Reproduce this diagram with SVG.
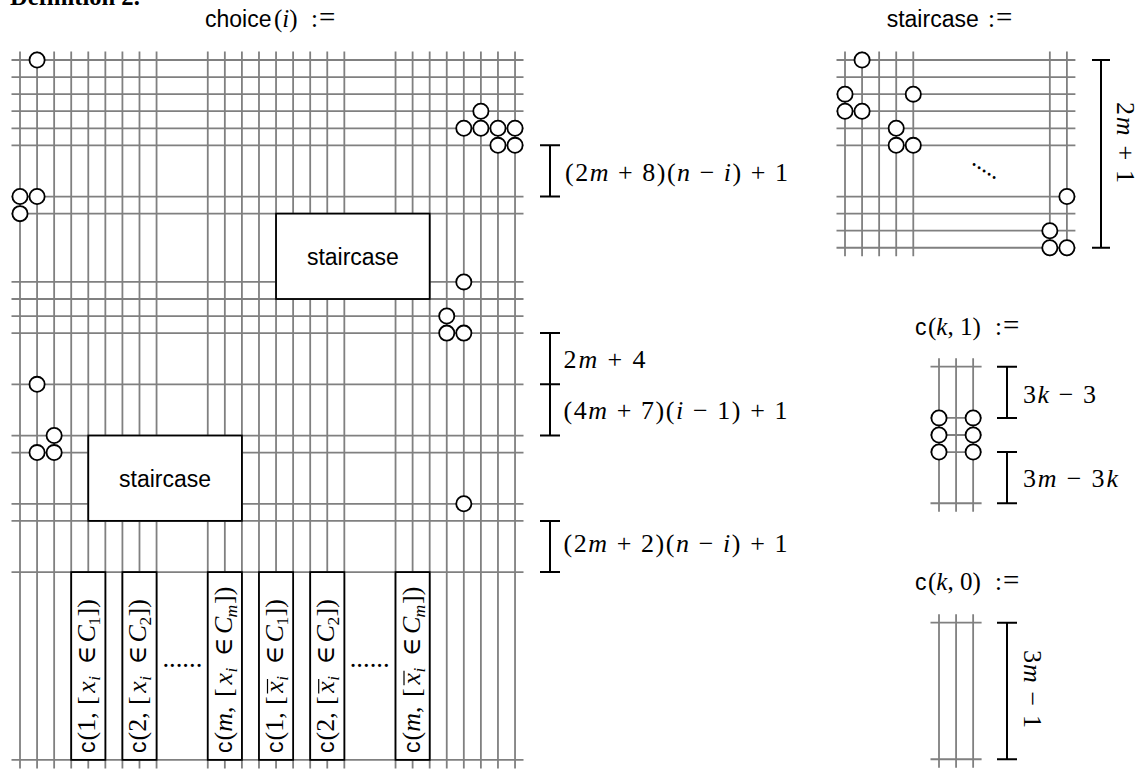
<svg xmlns="http://www.w3.org/2000/svg" width="1139" height="769" viewBox="0 0 1139 769">
<style>
.g{stroke:#808080;stroke-width:1.8;fill:none}
.pt{fill:#fff;stroke:#000;stroke-width:1.8}
.box{fill:#fff;stroke:#000;stroke-width:1.8}
.br{stroke:#000;stroke-width:2;fill:none}
.ov{stroke:#000;stroke-width:1.2}
.sf{font-family:"Liberation Sans",Arial,sans-serif}
.rm{font-family:"Liberation Serif","DejaVu Serif",serif}
.it{font-style:italic}
.sym{font-family:"DejaVu Serif",serif;font-size:25px}
text{fill:#000}
</style>
<rect width="1139" height="769" fill="#fff"/>

<text id="title" class="rm" x="10" y="5" font-size="24.6" font-weight="bold">Definition 2.</text>

<!-- choice(i) -->
<g id="choice-title">
<text x="205" y="26.5" font-size="25" class="rm"><tspan class="sf" font-size="23">choice</tspan><tspan x="274">(</tspan><tspan class="it">i</tspan><tspan>)</tspan><tspan x="311">:</tspan><tspan x="319" font-size="29">=</tspan></text>
</g>

<g id="choice-grid">
<path class="g" d="M11.5 60H523.5M11.5 77.07H523.5M11.5 94.14H523.5M11.5 111.21H523.5M11.5 128.28H523.5M11.5 145.35H523.5M11.5 196.56H523.5M11.5 213.63H523.5M11.5 281.91H523.5M11.5 298.98H523.5M11.5 316.05H523.5M11.5 333.12H523.5M11.5 384.33H523.5M11.5 435.54H523.5M11.5 452.61H523.5M11.5 503.82H523.5M11.5 520.89H523.5M11.5 572.1H523.5M11.5 759.87H523.5"/>
<path class="g" d="M20 51.5V768.4M37.07 51.5V768.4M54.14 51.5V768.4M71.21 51.5V768.4M88.28 51.5V768.4M105.35 51.5V768.4M122.42 51.5V768.4M139.49 51.5V768.4M156.56 51.5V768.4M207.77 51.5V768.4M224.84 51.5V768.4M241.91 51.5V768.4M258.98 51.5V768.4M276.05 51.5V768.4M293.12 51.5V768.4M310.19 51.5V768.4M327.26 51.5V768.4M344.33 51.5V768.4M395.54 51.5V768.4M412.61 51.5V768.4M429.68 51.5V768.4M446.75 51.5V768.4M463.82 51.5V768.4M480.89 51.5V768.4M497.96 51.5V768.4M515.03 51.5V768.4"/>
</g>

<g id="staircase-upper">
<rect class="box" x="276.05" y="213.63" width="153.63" height="85.35"/>
<text class="sf" x="352.9" y="264.5" font-size="23" text-anchor="middle">staircase</text>
</g>
<g id="staircase-lower">
<rect class="box" x="88.28" y="435.54" width="153.63" height="85.35"/>
<text class="sf" x="165.1" y="486.5" font-size="23" text-anchor="middle">staircase</text>
</g>

<g id="choice-points">
<circle class="pt" cx="37.07" cy="60" r="7.6"/>
<circle class="pt" cx="20" cy="196.56" r="7.6"/>
<circle class="pt" cx="37.07" cy="196.56" r="7.6"/>
<circle class="pt" cx="20" cy="213.63" r="7.6"/>
<circle class="pt" cx="480.89" cy="111.21" r="7.6"/>
<circle class="pt" cx="463.82" cy="128.28" r="7.6"/>
<circle class="pt" cx="480.89" cy="128.28" r="7.6"/>
<circle class="pt" cx="497.96" cy="128.28" r="7.6"/>
<circle class="pt" cx="515.03" cy="128.28" r="7.6"/>
<circle class="pt" cx="497.96" cy="145.35" r="7.6"/>
<circle class="pt" cx="515.03" cy="145.35" r="7.6"/>
<circle class="pt" cx="463.82" cy="281.91" r="7.6"/>
<circle class="pt" cx="446.75" cy="316.05" r="7.6"/>
<circle class="pt" cx="446.75" cy="333.12" r="7.6"/>
<circle class="pt" cx="463.82" cy="333.12" r="7.6"/>
<circle class="pt" cx="37.07" cy="384.33" r="7.6"/>
<circle class="pt" cx="54.14" cy="435.54" r="7.6"/>
<circle class="pt" cx="37.07" cy="452.61" r="7.6"/>
<circle class="pt" cx="54.14" cy="452.61" r="7.6"/>
<circle class="pt" cx="463.82" cy="503.82" r="7.6"/>
</g>

<!-- clause boxes -->
<g id="cbox-1">
<rect class="box" x="71.21" y="572.1" width="34.14" height="187.77"/>
<g transform="translate(95.2,753) rotate(-90)">
<text class="rm" font-size="26"><tspan class="sf" font-size="23" x="0">c</tspan><tspan x="12.5">(1,</tspan><tspan x="48">[</tspan><tspan class="it" x="60.3">x</tspan><tspan class="it" x="72.3" dy="5" font-size="17.5">i</tspan><tspan class="sym" x="88.5" dy="-5">∈</tspan><tspan class="it" x="110.5">C</tspan><tspan x="127.5" dy="5" font-size="17.5">1</tspan><tspan x="136.5" dy="-5">])</tspan></text>
</g>
</g>
<g id="cbox-2">
<rect class="box" x="122.42" y="572.1" width="34.14" height="187.77"/>
<g transform="translate(146.4,753) rotate(-90)">
<text class="rm" font-size="26"><tspan class="sf" font-size="23" x="0">c</tspan><tspan x="12.5">(2,</tspan><tspan x="48">[</tspan><tspan class="it" x="60.3">x</tspan><tspan class="it" x="72.3" dy="5" font-size="17.5">i</tspan><tspan class="sym" x="88.5" dy="-5">∈</tspan><tspan class="it" x="110.5">C</tspan><tspan x="127.5" dy="5" font-size="17.5">2</tspan><tspan x="136.5" dy="-5">])</tspan></text>
</g>
</g>
<g id="cbox-m">
<rect class="box" x="207.77" y="572.1" width="34.14" height="187.77"/>
<g transform="translate(231.8,753) rotate(-90)">
<text class="rm" font-size="26"><tspan class="sf" font-size="23" x="0">c</tspan><tspan x="12.5">(</tspan><tspan class="it">m</tspan><tspan>,</tspan><tspan x="56">[</tspan><tspan class="it" x="68.6">x</tspan><tspan class="it" x="80.6" dy="5" font-size="17.5">i</tspan><tspan class="sym" x="96.8" dy="-5">∈</tspan><tspan class="it" x="119">C</tspan><tspan class="it" x="135.6" dy="5" font-size="17.5">m</tspan><tspan x="149" dy="-5">])</tspan></text>
</g>
</g>
<g id="cbox-neg-1">
<rect class="box" x="258.98" y="572.1" width="34.14" height="187.77"/>
<g transform="translate(283,753) rotate(-90)">
<text class="rm" font-size="26"><tspan class="sf" font-size="23" x="0">c</tspan><tspan x="12.5">(1,</tspan><tspan x="48">[</tspan><tspan class="it" x="60.3">x</tspan><tspan class="it" x="72.3" dy="5" font-size="17.5">i</tspan><tspan class="sym" x="88.5" dy="-5">∈</tspan><tspan class="it" x="110.5">C</tspan><tspan x="127.5" dy="5" font-size="17.5">1</tspan><tspan x="136.5" dy="-5">])</tspan></text>
<line class="ov" x1="59.5" y1="-15.5" x2="74" y2="-15.5"/>
</g>
</g>
<g id="cbox-neg-2">
<rect class="box" x="310.19" y="572.1" width="34.14" height="187.77"/>
<g transform="translate(334.2,753) rotate(-90)">
<text class="rm" font-size="26"><tspan class="sf" font-size="23" x="0">c</tspan><tspan x="12.5">(2,</tspan><tspan x="48">[</tspan><tspan class="it" x="60.3">x</tspan><tspan class="it" x="72.3" dy="5" font-size="17.5">i</tspan><tspan class="sym" x="88.5" dy="-5">∈</tspan><tspan class="it" x="110.5">C</tspan><tspan x="127.5" dy="5" font-size="17.5">2</tspan><tspan x="136.5" dy="-5">])</tspan></text>
<line class="ov" x1="59.5" y1="-15.5" x2="74" y2="-15.5"/>
</g>
</g>
<g id="cbox-neg-m">
<rect class="box" x="395.54" y="572.1" width="34.14" height="187.77"/>
<g transform="translate(419.5,753) rotate(-90)">
<text class="rm" font-size="26"><tspan class="sf" font-size="23" x="0">c</tspan><tspan x="12.5">(</tspan><tspan class="it">m</tspan><tspan>,</tspan><tspan x="56">[</tspan><tspan class="it" x="68.6">x</tspan><tspan class="it" x="80.6" dy="5" font-size="17.5">i</tspan><tspan class="sym" x="96.8" dy="-5">∈</tspan><tspan class="it" x="119">C</tspan><tspan class="it" x="135.6" dy="5" font-size="17.5">m</tspan><tspan x="149" dy="-5">])</tspan></text>
<line class="ov" x1="67.8" y1="-15.5" x2="82.3" y2="-15.5"/>
</g>
</g>
<text class="rm" x="162.4" y="666.5" font-size="26.6">......</text>
<text class="rm" x="349.7" y="666.5" font-size="26.6">......</text>

<!-- dimension brackets -->
<g id="connectors">
<path class="br" d="M540 145.35H560M550 145.35V196.56M540 196.56H560"/>
<path class="br" d="M540 333.12H560M550 333.12V435.54M540 384.33H560M540 435.54H560"/>
<path class="br" d="M540 520.89H560M550 520.89V572.1M540 572.1H560"/>
<path class="br" d="M1092 60H1110M1101 60V247.77M1092 247.77H1110"/>
<path class="br" d="M997 366.7H1017M1007 366.7V417.91M997 417.91H1017"/>
<path class="br" d="M997 452.05H1017M1007 452.05V503.26M997 503.26H1017"/>
<path class="br" d="M997 622.7H1017M1007 622.7V759.26M997 759.26H1017"/>
</g>
<g id="dim-labels">
<text class="rm" x="565" y="180.5" font-size="26" textLength="223" lengthAdjust="spacing">(2<tspan class="it">m</tspan> + 8)(<tspan class="it">n</tspan> − <tspan class="it">i</tspan>) + 1</text>
<text class="rm" x="563.5" y="368" font-size="26" textLength="82" lengthAdjust="spacing">2<tspan class="it">m</tspan> + 4</text>
<text class="rm" x="563.5" y="418.5" font-size="26" textLength="224" lengthAdjust="spacing">(4<tspan class="it">m</tspan> + 7)(<tspan class="it">i</tspan> − 1) + 1</text>
<text class="rm" x="563.5" y="552" font-size="26" textLength="224" lengthAdjust="spacing">(2<tspan class="it">m</tspan> + 2)(<tspan class="it">n</tspan> − <tspan class="it">i</tspan>) + 1</text>
</g>

<!-- staircase definition -->
<g id="staircase-title">
<text x="886.7" y="26.5" font-size="25" class="rm"><tspan class="sf" font-size="23">staircase</tspan><tspan x="988">:</tspan><tspan x="996" font-size="29">=</tspan></text>
</g>
<g id="staircase-grid">
<path class="g" d="M836.5 60H1075.4M836.5 77.07H1075.4M836.5 94.14H1075.4M836.5 111.21H1075.4M836.5 128.28H1075.4M836.5 145.35H1075.4M836.5 196.56H1075.4M836.5 213.63H1075.4M836.5 230.7H1075.4M836.5 247.77H1075.4"/>
<path class="g" d="M845 51.5V256.3M862.07 51.5V256.3M879.14 51.5V256.3M896.21 51.5V256.3M913.28 51.5V256.3M1049.84 51.5V256.3M1066.91 51.5V256.3"/>
<circle class="pt" cx="862.07" cy="60" r="7.6"/>
<circle class="pt" cx="845" cy="94.14" r="7.6"/>
<circle class="pt" cx="845" cy="111.21" r="7.6"/>
<circle class="pt" cx="862.07" cy="111.21" r="7.6"/>
<circle class="pt" cx="913.28" cy="94.14" r="7.6"/>
<circle class="pt" cx="896.21" cy="128.28" r="7.6"/>
<circle class="pt" cx="896.21" cy="145.35" r="7.6"/>
<circle class="pt" cx="913.28" cy="145.35" r="7.6"/>
<circle class="pt" cx="1066.91" cy="196.56" r="7.6"/>
<circle class="pt" cx="1049.84" cy="230.7" r="7.6"/>
<circle class="pt" cx="1049.84" cy="247.77" r="7.6"/>
<circle class="pt" cx="1066.91" cy="247.77" r="7.6"/>
<text class="rm" font-size="24" transform="translate(972,162) rotate(33)" x="0" y="2">.....</text>
<text class="rm" font-size="26" transform="translate(1117,102) rotate(90)" textLength="81" lengthAdjust="spacing">2<tspan class="it">m</tspan> + 1</text>
</g>

<!-- c(k,1) -->
<g id="ck1">
<text x="915" y="335" font-size="25" class="rm"><tspan class="sf" font-size="23">c</tspan><tspan x="928">(</tspan><tspan class="it">k</tspan><tspan>, 1)</tspan><tspan x="995">:</tspan><tspan x="1003" font-size="29">=</tspan></text>
<path class="g" d="M930.5 366.7H981.6M930.5 417.91H981.6M930.5 434.98H981.6M930.5 452.05H981.6M930.5 503.26H981.6"/>
<path class="g" d="M939 358.2V511.8M956.07 358.2V511.8M973.14 358.2V511.8"/>
<circle class="pt" cx="939" cy="417.91" r="7.6"/>
<circle class="pt" cx="939" cy="434.98" r="7.6"/>
<circle class="pt" cx="939" cy="452.05" r="7.6"/>
<circle class="pt" cx="973.14" cy="417.91" r="7.6"/>
<circle class="pt" cx="973.14" cy="434.98" r="7.6"/>
<circle class="pt" cx="973.14" cy="452.05" r="7.6"/>
<text class="rm" x="1023" y="403" font-size="26" textLength="73" lengthAdjust="spacing">3<tspan class="it">k</tspan> − 3</text>
<text class="rm" x="1023" y="487" font-size="26" textLength="95" lengthAdjust="spacing">3<tspan class="it">m</tspan> − 3<tspan class="it">k</tspan></text>
</g>

<!-- c(k,0) -->
<g id="ck0">
<text x="915" y="590" font-size="25" class="rm"><tspan class="sf" font-size="23">c</tspan><tspan x="928">(</tspan><tspan class="it">k</tspan><tspan>, 0)</tspan><tspan x="995">:</tspan><tspan x="1003" font-size="29">=</tspan></text>
<path class="g" d="M930.5 622.7H981.6M930.5 759.26H981.6"/>
<path class="g" d="M939 614.2V767.8M956.07 614.2V767.8M973.14 614.2V767.8"/>
<text class="rm" font-size="26" transform="translate(1024,650) rotate(90)" textLength="78" lengthAdjust="spacing">3<tspan class="it">m</tspan> − 1</text>
</g>
</svg>
